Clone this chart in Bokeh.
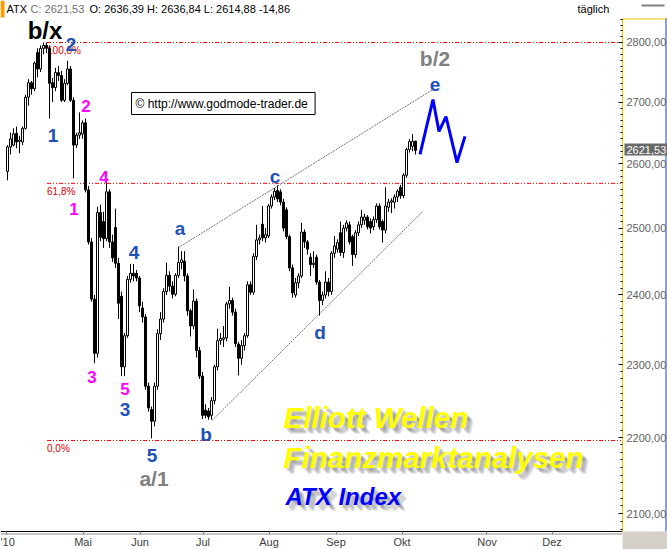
from bokeh.plotting import figure
from bokeh.models import (Range1d, FixedTicker, CustomJSTickFormatter, Label,
                          ColumnDataSource, BoxAnnotation)
from bokeh.embed import file_html
from bokeh.resources import INLINE
from bokeh.core.properties import value

# ---------------- data (ATX daily) ----------------
opens = [2588, 2627, 2630, 2649, 2636, 2635, 2657, 2708, 2732, 2722,
         2783, 2755, 2790, 2795, 2790, 2732, 2724, 2749, 2744, 2703,
         2731, 2755, 2703, 2630, 2646, 2648, 2666, 2559, 2479, 2394,
         2316, 2524, 2510, 2484, 2556, 2479, 2501, 2447, 2398, 2297,
         2341, 2423, 2432, 2432, 2425, 2381, 2368, 2270, 2238, 2222,
         2270, 2344, 2365, 2405, 2429, 2413, 2401, 2429, 2448, 2450,
         2428, 2377, 2355, 2391, 2320, 2284, 2237, 2236, 2230, 2250,
         2297, 2334, 2336, 2338, 2387, 2392, 2375, 2329, 2309, 2327,
         2341, 2415, 2404, 2457, 2482, 2506, 2485, 2488, 2534, 2548,
         2558, 2556, 2540, 2528, 2487, 2440, 2400, 2418, 2428, 2494,
         2479, 2456, 2445, 2456, 2419, 2392, 2400, 2419, 2405, 2462,
         2468, 2493, 2463, 2500, 2505, 2487, 2460, 2493, 2505, 2512,
         2517, 2510, 2502, 2513, 2534, 2510, 2497, 2532, 2540, 2540,
         2548, 2563, 2550, 2582, 2623, 2628, 2636.39]
highs = [2630, 2650, 2657, 2660, 2645, 2660, 2712, 2738, 2735, 2768,
         2790, 2795, 2800, 2800, 2795, 2740, 2757, 2760, 2752, 2738,
         2769, 2760, 2708, 2650, 2683, 2670, 2673, 2565, 2485, 2400,
         2533, 2536, 2525, 2570, 2560, 2490, 2530, 2455, 2405, 2345,
         2428, 2446, 2446, 2437, 2428, 2390, 2372, 2275, 2242, 2275,
         2350, 2375, 2410, 2448, 2435, 2420, 2432, 2472, 2465, 2465,
         2432, 2380, 2408, 2395, 2325, 2290, 2245, 2240, 2255, 2300,
         2351, 2345, 2355, 2390, 2412, 2396, 2380, 2332, 2335, 2345,
         2420, 2420, 2462, 2505, 2490, 2534, 2500, 2537, 2552, 2562,
         2566, 2560, 2545, 2532, 2490, 2445, 2425, 2432, 2508, 2498,
         2482, 2462, 2465, 2460, 2422, 2405, 2435, 2425, 2465, 2488,
         2483, 2510, 2505, 2512, 2510, 2490, 2497, 2510, 2528, 2522,
         2520, 2515, 2518, 2538, 2538, 2513, 2563, 2545, 2546, 2552,
         2560, 2567, 2585, 2626, 2640, 2648, 2636.84]
lows = [2574, 2615, 2628, 2625, 2617, 2630, 2655, 2694, 2712, 2718,
        2741, 2750, 2780, 2782, 2673, 2700, 2718, 2735, 2700, 2700,
        2728, 2700, 2577, 2625, 2640, 2640, 2555, 2475, 2390, 2302,
        2310, 2480, 2470, 2480, 2470, 2449, 2440, 2365, 2284, 2284,
        2338, 2418, 2420, 2420, 2375, 2360, 2265, 2235, 2199, 2215,
        2265, 2335, 2360, 2400, 2405, 2395, 2398, 2425, 2438, 2420,
        2370, 2340, 2350, 2310, 2280, 2225, 2226, 2224, 2224, 2245,
        2292, 2328, 2325, 2333, 2380, 2370, 2325, 2285, 2300, 2320,
        2338, 2400, 2400, 2452, 2475, 2480, 2478, 2485, 2530, 2543,
        2540, 2535, 2495, 2483, 2435, 2396, 2396, 2410, 2425, 2470,
        2460, 2428, 2440, 2415, 2370, 2385, 2395, 2398, 2400, 2455,
        2463, 2458, 2455, 2495, 2475, 2443, 2455, 2488, 2500, 2505,
        2498, 2492, 2497, 2508, 2498, 2478, 2492, 2525, 2523, 2530,
        2540, 2545, 2546, 2578, 2618, 2620, 2614.88]
closes = [2627, 2640, 2648, 2635, 2638, 2657, 2708, 2732, 2722, 2765,
          2755, 2790, 2795, 2790, 2731, 2724, 2749, 2744, 2703, 2731,
          2755, 2703, 2630, 2646, 2650, 2666, 2559, 2479, 2394, 2316,
          2524, 2486, 2484, 2556, 2479, 2455, 2447, 2388, 2297, 2341,
          2423, 2432, 2428, 2425, 2384, 2368, 2270, 2240, 2222, 2270,
          2344, 2365, 2405, 2429, 2413, 2401, 2429, 2448, 2452, 2428,
          2377, 2355, 2391, 2320, 2284, 2230, 2230, 2228, 2250, 2297,
          2334, 2337, 2338, 2387, 2392, 2375, 2330, 2309, 2327, 2341,
          2415, 2404, 2457, 2482, 2485, 2485, 2490, 2534, 2548, 2557,
          2545, 2540, 2500, 2487, 2440, 2403, 2418, 2428, 2494, 2479,
          2468, 2445, 2447, 2419, 2392, 2400, 2419, 2405, 2462, 2473,
          2478, 2463, 2500, 2508, 2479, 2460, 2493, 2505, 2517, 2517,
          2502, 2500, 2513, 2534, 2502, 2497, 2534, 2540, 2542, 2548,
          2557, 2550, 2582, 2623, 2636, 2636, 2621.53]

month_names = ["'10", "Mai", "Jun", "Jul", "Aug", "Sep", "Okt", "Nov", "Dez"]
month_ticks = [-0.5, 25.17, 44.17, 65.17, 87.17, 109.5, 131.5, 159.83, 181.5]
price_ticks = [2100, 2200, 2300, 2400, 2500, 2600, 2700, 2800]

fib_high = 2800
fib_low = 2196
fib_ratios = [1.0, 0.618, 0.0]
fib_texts = ["100,0%", "61,8%", "0,0%"]
fib_start = 13.17

upper_x = [56.83, 141.83]
upper_y = [2470, 2721]
lower_x = [68.17, 138.5]
lower_y = [2223, 2526]

proj_x = [137.5, 141.83, 143.83, 146.17, 149.83, 152.5]
proj_y = [2615, 2704, 2652, 2676, 2602, 2644]

blue_lbl_x = [15.17, 21.17, 39.17, 42.17, 48.17, 57.5, 66.17, 89.17, 104.17, 142.5]
blue_lbl_y = [2645, 2797, 2238, 2463, 2176, 2499, 2204, 2580, 2346, 2729]
blue_lbl_t = ["1", "2", "3", "4", "5", "a", "b", "c", "d", "e"]
mag_lbl_x = [22.17, 26.17, 28.17, 32.17, 39.17]
mag_lbl_y = [2530, 2693, 2283, 2579, 2266]
mag_lbl_t = ["1", "2", "3", "4", "5"]
gray_lbl_x = [48.83, 142.5]
gray_lbl_y = [2146, 2773]
gray_lbl_t = ["a/1", "b/2"]

# ---------------- figure ----------------
FONT = "Liberation Sans"
W, H = 667, 549
X0 = -2.5 + 1 / 6.0       # 3 px per trading day
X1 = X0 + W / 3.0
X_AXIS = X0 + 622 / 3.0   # position of the price axis
Y_BOT, Y_TOP = 2054.6, 2872.7
Y_AXIS = 2077.3           # position of the time axis

p = figure(frame_width=W, frame_height=H, output_backend="svg",
           toolbar_location=None, y_axis_type="log", y_axis_location="right",
           x_range=Range1d(X0, X1), y_range=Range1d(Y_BOT, Y_TOP),
           min_border=0, background_fill_color="white",
           border_fill_color="white")
p.outline_line_color = None
p.xgrid.visible = False
p.ygrid.visible = False

# y axis (right)
ya = p.yaxis[0]
ya.fixed_location = X_AXIS
ya.bounds = (Y_AXIS, 2842)
ya.ticker = FixedTicker(ticks=price_ticks, minor_ticks=list(range(2080, 2841, 10)))
ya.formatter = CustomJSTickFormatter(code="return tick.toFixed(2).replace('.', ',');")
ya.axis_line_color = "#f5c400"
ya.major_tick_in = 4
ya.major_tick_out = 0
ya.minor_tick_in = 2
ya.minor_tick_out = 0
ya.major_tick_line_color = "black"
ya.minor_tick_line_color = "black"
ya.major_label_text_font = FONT
ya.major_label_text_font_size = "11px"
ya.major_label_text_color = "#606060"
ya.major_label_standoff = 4

# x axis
xa = p.xaxis[0]
xa.fixed_location = Y_AXIS
xa.bounds = (X0, X_AXIS)
xa.ticker = FixedTicker(ticks=month_ticks, minor_ticks=[])
xa.formatter = CustomJSTickFormatter(
    args=dict(pos=month_ticks, names=month_names),
    code="""
    for (let k = 0; k < pos.length; k++) {
        if (Math.abs(pos[k] - tick) < 1e-6) return names[k];
    }
    return '';
    """)
xa.axis_line_color = "black"
xa.major_tick_out = 3
xa.major_tick_in = 0
xa.major_tick_line_color = "#808080"
xa.major_label_text_font = FONT
xa.major_label_text_font_size = "11px"
xa.major_label_text_color = "#404040"
xa.major_label_standoff = 1

# chrome of the chart window (screen units, y measured from the bottom)
SC = dict(left_units="screen", right_units="screen", top_units="screen",
          bottom_units="screen", line_color=None, level="underlay")
p.add_layout(BoxAnnotation(left=0, right=622, top=16, bottom=15,
                           fill_color="#909090", fill_alpha=1, **SC))
p.add_layout(BoxAnnotation(left=622, right=667, top=531, bottom=530,
                           fill_color="#f5c400", fill_alpha=1, **SC))
p.add_layout(BoxAnnotation(left=665, right=666, top=531, bottom=18,
                           fill_color="#2040d0", fill_alpha=1, **SC))
p.add_layout(BoxAnnotation(left=622, right=667, top=18, bottom=0,
                           fill_color="#d4d0c8", fill_alpha=1, **SC))
p.add_layout(BoxAnnotation(left=0, right=4, top=549, bottom=532,
                           fill_color="#ff9900", fill_alpha=1, **SC))
p.add_layout(BoxAnnotation(left=641, right=664, top=545, bottom=543,
                           fill_color="#808080", fill_alpha=1, **SC))

# fibonacci lines
for r, t in zip(fib_ratios, fib_texts):
    lvl = fib_low + r * (fib_high - fib_low)
    p.line([fib_start, X_AXIS], [lvl, lvl], line_color="#ff0000",
           line_width=1, line_dash="4 2 1 2 1 2")
    p.text([fib_start], [lvl], text=[t], text_color="#e00000",
           text_font=value(FONT), text_font_size="10px", text_align="left",
           text_baseline="top", y_offset=3)

# channel lines
p.line(upper_x, upper_y, line_color="#707070", line_width=1, line_dash="2 1")
p.line(lower_x, lower_y, line_color="#707070", line_width=1, line_dash="2 1")

# candles
idx = list(range(len(opens)))
src = ColumnDataSource(dict(
    x=idx,
    top=[max(o, c) for o, c in zip(opens, closes)],
    bottom=[min(o, c) for o, c in zip(opens, closes)],
    high=highs, low=lows,
    fill=["white" if c >= o else "black" for o, c in zip(opens, closes)],
))
p.segment(x0="x", y0="high", x1="x", y1="low", source=src, line_color="black",
          line_width=1)
p.vbar(x="x", width=2 / 3.0, top="top", bottom="bottom", source=src,
       fill_color="fill", line_color="black", line_width=1)

# projection
p.line(proj_x, proj_y, line_color="#0000ff", line_width=3)

# wave labels
p.text(blue_lbl_x, blue_lbl_y, text=blue_lbl_t, text_color="#2050b8",
       text_font=value(FONT), text_font_style="bold", text_font_size="19px",
       text_align="center", text_baseline="middle")
p.text(mag_lbl_x, mag_lbl_y, text=mag_lbl_t, text_color="#ff00ff",
       text_font=value(FONT), text_font_style="bold", text_font_size="17px",
       text_align="center", text_baseline="middle")
p.text(gray_lbl_x, gray_lbl_y, text=gray_lbl_t, text_color="#808080",
       text_font=value(FONT), text_font_style="bold", text_font_size="21px",
       text_align="center", text_baseline="middle")
p.text([12.5], [2821], text=["b/x"], text_color="black",
       text_font=value(FONT), text_font_style="bold", text_font_size="24px",
       text_align="center", text_baseline="middle")

# copyright box
p.add_layout(Label(x=131, y=446, x_units="screen", y_units="screen",
                   text="\u00a9  http://www.godmode-trader.de",
                   text_font=FONT, text_font_size="12px", text_color="black",
                   text_baseline="middle", background_fill_color="white",
                   border_line_color="black", border_line_width=1, padding=4))

# titles with shadow
def shadow_label(sx, sy, txt, color, size):
    for d in (2, 3, 4, 5, 6):
        p.add_layout(Label(x=sx + d, y=sy - d, x_units="screen", y_units="screen",
                           text=txt, text_font=FONT, text_font_style="bold italic",
                           text_font_size=size, text_color="#404040",
                           text_alpha=0.14, text_baseline="middle"))
    p.add_layout(Label(x=sx, y=sy, x_units="screen", y_units="screen",
                       text=txt, text_font=FONT, text_font_style="bold italic",
                       text_font_size=size, text_color=color,
                       text_baseline="middle"))

shadow_label(283, 132, "Elliott Wellen", "#ffff00", "29.5px")
shadow_label(283, 92, "Finanzmarktanalysen", "#ffff00", "29.5px")
shadow_label(285, 53, "ATX Index", "#0000ff", "24px")

# header line
hdr = dict(x_units="screen", y_units="screen", text_font=FONT,
           text_font_size="11px", text_baseline="top")
p.add_layout(Label(x=6, y=547, text="ATX", text_color="black", **hdr))
p.add_layout(Label(x=30, y=547, text="C: 2621,53", text_color="#707070", **hdr))
p.add_layout(Label(x=89, y=547, text="O: 2636,39 H: 2636,84 L: 2614,88 -14,86",
                   text_color="black", **hdr))
p.add_layout(Label(x=577, y=547, text="t\u00e4glich", text_color="black", **hdr))

# last price tag on the price axis
p.add_layout(Label(x=624, y=400, x_units="screen", y_units="screen",
                   text="2621,53", text_font=FONT, text_font_size="11px",
                   text_color="white", text_baseline="middle",
                   background_fill_color="#6a6a6a", padding=2))

open("out.html", "w").write(file_html(p, INLINE))
